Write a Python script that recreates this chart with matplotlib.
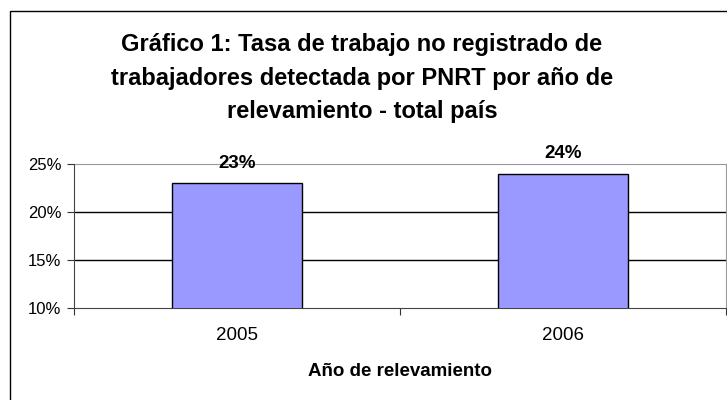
import matplotlib
matplotlib.use("Agg")
import matplotlib.pyplot as plt
from matplotlib.patches import Rectangle

# datos
anios = ['2005', '2006']
tasas = [23, 24]
ticks_y = [10, 15, 20, 25]

plt.rcParams['font.family'] = ['Liberation Sans', 'DejaVu Sans']

fig = plt.figure(figsize=(7.27, 4.0), dpi=100)
fig.patch.set_facecolor('white')

# marco exterior del grafico
fig.patches.append(Rectangle((10 / 727, -0.1), 1.2, 1 - 11 / 400 + 0.1,
                             transform=fig.transFigure, fill=False,
                             edgecolor='black', linewidth=1.0))

ax = fig.add_axes([74 / 727, 1 - 308 / 400, 652 / 727, 144 / 400])

x = range(len(anios))
barras = ax.bar(x, tasas, width=0.4, color='#9999ff', edgecolor='black',
                linewidth=1.0, zorder=3)

ax.set_ylim(10, 25)
ax.set_xlim(-0.5, 1.5)
ax.set_yticks(ticks_y)
ax.set_yticklabels([f'{t}%' for t in ticks_y], fontsize=12)
ax.set_xticks([-0.5, 0.5, 1.5])
ax.set_xticklabels([])
ax.set_xticks(list(x), minor=True)
ax.set_xticklabels(anios, minor=True, fontsize=13.5)
ax.tick_params(axis='x', which='minor', length=0, pad=14)
ax.tick_params(axis='x', which='major', length=5, direction='out', color='#333333')
ax.tick_params(axis='y', length=5, direction='out', color='#333333', pad=4)

for t in [15, 20]:
    ax.axhline(t, color='black', linewidth=1.0, zorder=1)

for lado in ['top', 'right']:
    ax.spines[lado].set_color('#999999')
ax.spines['left'].set_color('#444444')
ax.spines['bottom'].set_color('#444444')
ax.spines['top'].set_zorder(0)

for b, v in zip(barras, tasas):
    ax.annotate(f'{v}%', (b.get_x() + b.get_width() / 2, v),
                xytext=(0, 8), textcoords='offset points',
                ha='center', va='bottom', fontsize=13.5, fontweight='bold',
                zorder=5, annotation_clip=False)

ax.set_xlabel('Año de relevamiento', fontsize=13.5, fontweight='bold', labelpad=13)

titulo = ['Gráfico 1: Tasa de trabajo no registrado de',
          'trabajadores detectada por PNRT por año de',
          'relevamiento - total país']
for i, linea in enumerate(titulo):
    fig.text(362 / 727, 1 - (45 + 33 * i) / 400, linea, ha='center', va='center',
             fontsize=17, fontweight='bold')

fig.savefig('out.png', dpi=100)
